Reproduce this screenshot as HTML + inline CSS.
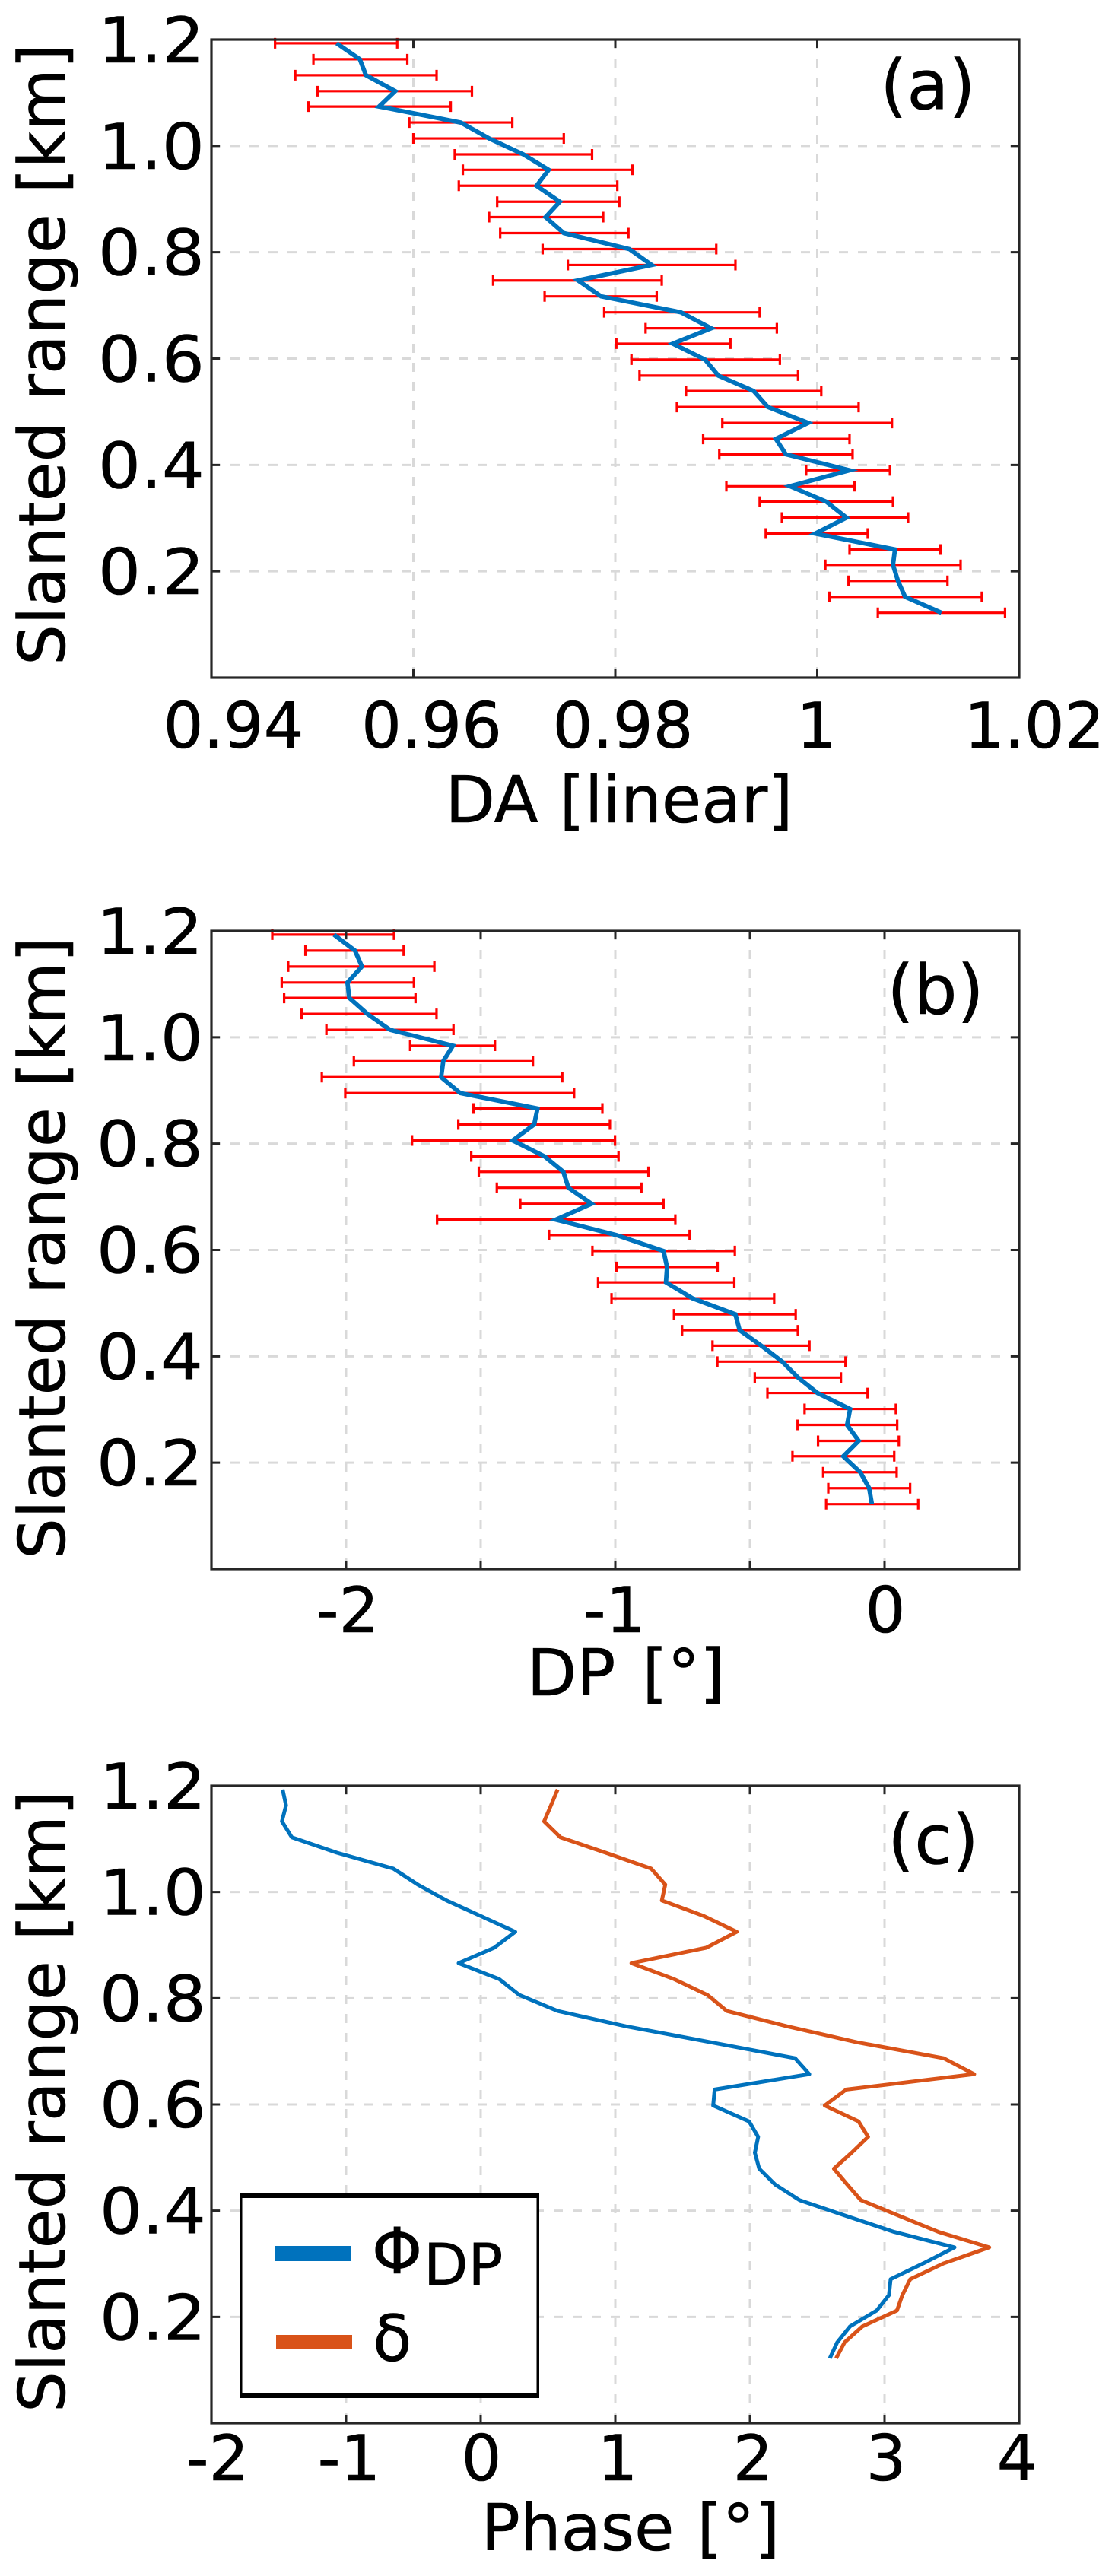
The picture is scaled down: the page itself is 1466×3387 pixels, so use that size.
<!DOCTYPE html>
<html lang="en">
<head>
<meta charset="utf-8">
<title>Slanted range profiles</title>
<style>
  html, body { margin: 0; padding: 0; background: #fff; }
  body { width: 1466px; height: 3387px; overflow: hidden; }
  svg { display: block; }
  text { font-family: "DejaVu Sans", "Liberation Sans", sans-serif; fill: #000; stroke: #000; stroke-width: 0.6px; }
</style>
</head>
<body>
<svg id="figure" xmlns="http://www.w3.org/2000/svg" width="1466" height="3387" viewBox="0 0 1466 3387"></svg>
<script>
// ---------- shared data ----------
const rangeKm = [1.193,1.163,1.133,1.103,1.074,1.044,1.014,0.984,0.955,0.925,0.895,0.866,0.836,0.806,0.776,0.747,0.717,0.687,0.657,0.628,0.598,0.568,0.539,0.509,0.479,0.449,0.420,0.390,0.360,0.331,0.301,0.271,0.241,0.212,0.182,0.152,0.122];
const rangeTicks = [0.2,0.4,0.6,0.8,1.0,1.2];
const rangeTickLabels = ['0.2','0.4','0.6','0.8','1.0','1.2'];

// ---------- panel (a) ----------
const daMean = [0.9524,0.9547,0.9553,0.9582,0.9566,0.9647,0.9675,0.9709,0.9734,0.9722,0.9745,0.9731,0.9749,0.9814,0.9836,0.9763,0.9786,0.9865,0.9895,0.9857,0.9889,0.9902,0.9937,0.9951,0.9991,0.9959,0.9969,1.0032,0.9973,1.0009,1.0029,0.9998,1.0077,1.0075,1.0080,1.0087,1.0123];
const daLow = [0.9463,0.9501,0.9483,0.9505,0.9496,0.9596,0.9600,0.9641,0.9649,0.9645,0.9683,0.9675,0.9686,0.9728,0.9753,0.9679,0.9730,0.9789,0.9830,0.9801,0.9816,0.9824,0.9870,0.9861,0.9906,0.9887,0.9903,0.9989,0.9910,0.9943,0.9965,0.9949,1.0032,1.0008,1.0031,1.0012,1.0060];
const daHigh = [0.9584,0.9594,0.9623,0.9658,0.9637,0.9698,0.9749,0.9777,0.9817,0.9802,0.9804,0.9788,0.9813,0.9900,0.9919,0.9846,0.9841,0.9943,0.9960,0.9914,0.9963,0.9981,1.0004,1.0041,1.0074,1.0032,1.0035,1.0072,1.0037,1.0075,1.0090,1.0050,1.0122,1.0142,1.0129,1.0163,1.0186];
const daTicks = [0.94,0.96,0.98,1,1.02];
const daTickLabels = ['0.94','0.96','0.98','1','1.02'];

// ---------- panel (b) ----------
const dpMean = [-2.045,-1.967,-1.941,-1.995,-1.988,-1.921,-1.837,-1.603,-1.639,-1.647,-1.576,-1.289,-1.301,-1.381,-1.263,-1.193,-1.174,-1.088,-1.221,-0.996,-0.821,-0.808,-0.812,-0.713,-0.554,-0.538,-0.458,-0.380,-0.321,-0.249,-0.128,-0.139,-0.096,-0.153,-0.090,-0.057,-0.047];
const dpLow = [-2.274,-2.151,-2.215,-2.239,-2.230,-2.165,-2.073,-1.762,-1.971,-2.090,-2.003,-1.527,-1.583,-1.755,-1.535,-1.507,-1.440,-1.353,-1.662,-1.246,-1.085,-0.996,-1.064,-1.014,-0.782,-0.752,-0.639,-0.621,-0.482,-0.435,-0.297,-0.323,-0.247,-0.342,-0.228,-0.209,-0.217];
const dpHigh = [-1.822,-1.786,-1.672,-1.748,-1.742,-1.664,-1.601,-1.447,-1.306,-1.197,-1.153,-1.048,-1.020,-1.001,-0.988,-0.877,-0.903,-0.821,-0.777,-0.724,-0.556,-0.620,-0.558,-0.410,-0.330,-0.322,-0.279,-0.145,-0.162,-0.063,0.042,0.047,0.053,0.036,0.045,0.095,0.125];
const dpGridTicks = [-2,-1.5,-1,-0.5,0];
const dpLabelTicks = [-2,-1,0];
const dpTickLabels = ['-2','-1','0'];

// ---------- panel (c) ----------
const phiDp = [-1.471,-1.446,-1.476,-1.403,-1.068,-0.649,-0.467,-0.253,-0.001,0.257,0.100,-0.164,0.138,0.287,0.572,1.081,1.712,2.335,2.441,1.738,1.727,1.994,2.061,2.037,2.069,2.188,2.367,2.718,3.072,3.520,3.290,3.045,3.033,2.941,2.743,2.648,2.593];
const delta = [0.572,0.522,0.471,0.592,0.928,1.266,1.371,1.346,1.656,1.902,1.675,1.120,1.437,1.685,1.828,2.277,2.797,3.439,3.666,2.715,2.556,2.807,2.878,2.755,2.624,2.723,2.823,3.112,3.401,3.778,3.441,3.191,3.132,3.092,2.835,2.703,2.640];
const phaseTicks = [-2,-1,0,1,2,3,4];
const phaseTickLabels = ['-2','-1','0','1','2','3','4'];

// ---------- layout ----------
const SVGNS = 'http://www.w3.org/2000/svg';
const svg = document.getElementById('figure');
const AXIS = '#262626', GRID = '#d9d9d9', BLUE = '#0072BD', ORANGE = '#D95319', RED = '#FF0000';
const LEFT = 278, RIGHT = 1340, FS = 83;

function mk(parent, tag, attrs, text) {
  const el = document.createElementNS(SVGNS, tag);
  for (const k in attrs) el.setAttribute(k, attrs[k]);
  if (text !== undefined) el.textContent = text;
  parent.appendChild(el);
  return el;
}

function drawPanel(cfg) {
  const g = mk(svg, 'g', {});
  
  
  const xs = v => LEFT + (v - cfg.xMin) / (cfg.xMax - cfg.xMin) * (RIGHT - LEFT);
  const ys = v => cfg.bottom - v / 1.2 * (cfg.bottom - cfg.top);

  // grid
  cfg.xGrid.forEach(v => {
    if (v === cfg.xMin || v === cfg.xMax) return;
    const l = mk(g, 'line', {x1: xs(v), x2: xs(v), y1: cfg.top, y2: cfg.bottom, stroke: GRID, 'stroke-width': 3, 'stroke-dasharray': '12 13'});
    
    
  });
  rangeTicks.forEach(v => {
    if (v === 1.2) return;
    const l = mk(g, 'line', {x1: LEFT, x2: RIGHT, y1: ys(v), y2: ys(v), stroke: GRID, 'stroke-width': 3, 'stroke-dasharray': '12 13'});
    
    
  });

  // error bars
  if (cfg.low) {
    rangeKm.forEach((r, i) => {
      const y = ys(r), a = xs(cfg.low[i]), b = xs(cfg.high[i]);
      const eb = mk(g, 'path', {d: `M${a} ${y}H${b}M${a} ${y - 7}V${y + 7}M${b} ${y - 7}V${y + 7}`, stroke: RED, 'stroke-width': 3.2, fill: 'none'});
      
      
    });
  }

  // series
  cfg.series.forEach(s => {
    const pts = s.values.map((v, i) => xs(v).toFixed(1) + ',' + ys(rangeKm[i]).toFixed(1)).join(' ');
    const p = mk(g, 'polyline', {points: pts, fill: 'none', stroke: s.color, 'stroke-width': s.width, 'stroke-linejoin': s.join, 'stroke-miterlimit': 4});
    
    
  });

  // frame
  const fr = mk(g, 'rect', {x: LEFT, y: cfg.top, width: RIGHT - LEFT, height: cfg.bottom - cfg.top, fill: 'none', stroke: AXIS, 'stroke-width': 3.2});
  
  

  // ticks
  cfg.xGrid.forEach(v => {
    const t = mk(g, 'path', {d: `M${xs(v)} ${cfg.bottom}v-11M${xs(v)} ${cfg.top}v11`, stroke: AXIS, 'stroke-width': 3, fill: 'none'});
    
    
  });
  rangeTicks.forEach(v => {
    const t = mk(g, 'path', {d: `M${LEFT} ${ys(v)}h11M${RIGHT} ${ys(v)}h-11`, stroke: AXIS, 'stroke-width': 3, fill: 'none'});
    
    
  });

  // tick labels
  rangeTicks.forEach((v, i) => {
    const t = mk(g, 'text', {transform: `translate(${cfg.yLabelX} ${ys(v) + 30}) scale(1.06 1)`, 'font-size': FS}, rangeTickLabels[i]);
    
    
  });
  cfg.xLabelTicks.forEach((v, i) => {
    const t = mk(g, 'text', {x: xs(v) + cfg.xLabelShift[i], y: cfg.xLabelBase, 'text-anchor': 'middle', 'font-size': FS}, cfg.xLabels[i]);
    
    
  });

  // titles
  const xt = mk(g, 'text', {x: cfg.xTitleX, y: cfg.xTitleY, 'text-anchor': 'middle', 'font-size': 85, 'word-spacing': cfg.xTitleGap}, cfg.xTitle);
  
  
  const yt = mk(g, 'text', {transform: `translate(85 ${cfg.yTitleC}) rotate(-90)`, 'text-anchor': 'middle', 'font-size': 84.5}, 'Slanted range [km]');
  
  
  const tag = mk(g, 'text', {x: cfg.tagX, y: cfg.tagY, 'text-anchor': 'middle', 'font-size': 90}, cfg.tag);
  
  
}

drawPanel({
  name: 'panel-a', top: 52, bottom: 891, xMin: 0.94, xMax: 1.02,
  xGrid: daTicks, xLabelTicks: daTicks, xLabels: daTickLabels, xLabelShift: [29, 24, 10, -1, 20],
  xLabelBase: 983, yLabelX: 129,
  xTitle: 'DA [linear]', xTitleX: 814, xTitleY: 1081, xTitleGap: 1, yTitleC: 466,
  tag: '(a)', tagX: 1220, tagY: 143,
  low: daLow, high: daHigh,
  series: [{name: 'da-mean-line', values: daMean, color: BLUE, width: 5.8, join: 'miter'}]
});
drawPanel({
  name: 'panel-b', top: 1224, bottom: 2063, xMin: -2.5, xMax: 0.5,
  xGrid: dpGridTicks, xLabelTicks: dpLabelTicks, xLabels: dpTickLabels, xLabelShift: [2, -1, 1],
  xLabelBase: 2146, yLabelX: 127,
  xTitle: 'DP [°]', xTitleX: 823, xTitleY: 2229, xTitleGap: 8, yTitleC: 1641,
  tag: '(b)', tagX: 1230, tagY: 1333,
  low: dpLow, high: dpHigh,
  series: [{name: 'dp-mean-line', values: dpMean, color: BLUE, width: 5.8, join: 'miter'}]
});
drawPanel({
  name: 'panel-c', top: 2348, bottom: 3186, xMin: -2, xMax: 4,
  xGrid: phaseTicks, xLabelTicks: phaseTicks, xLabels: phaseTickLabels, xLabelShift: [8, 4, 1, 3, 4, 2, -3],
  xLabelBase: 3261, yLabelX: 131,
  xTitle: 'Phase [°]', xTitleX: 829, xTitleY: 3353, xTitleGap: 3, yTitleC: 2763,
  tag: '(c)', tagX: 1227, tagY: 2450,
  series: [
    {name: 'phi-dp-line', values: phiDp, color: BLUE, width: 5, join: 'round'},
    {name: 'delta-line', values: delta, color: ORANGE, width: 5, join: 'round'}
  ]
});

// ---------- legend ----------
const lg = mk(svg, 'g', {});


const box = mk(lg, 'rect', {x: 315, y: 2883, width: 394, height: 270, fill: '#fff'});


const edges = mk(lg, 'path', {d: 'M315 2883h394v270h-394z M318.5 2890h387v256h-387z', fill: '#000', 'fill-rule': 'evenodd'});


const sw1 = mk(lg, 'rect', {x: 361, y: 2953, width: 100, height: 20, fill: BLUE});


const sw2 = mk(lg, 'rect', {x: 363, y: 3070, width: 100, height: 19, fill: ORANGE});


const t1 = mk(lg, 'text', {x: 489, y: 2989, 'font-size': 84}, 'Φ');


const t1b = mk(lg, 'text', {x: 557, y: 3004, 'font-size': 76}, 'DP');


const t2 = mk(lg, 'text', {x: 490, y: 3104, 'font-size': 84}, 'δ');


</script>
</body>
</html>
